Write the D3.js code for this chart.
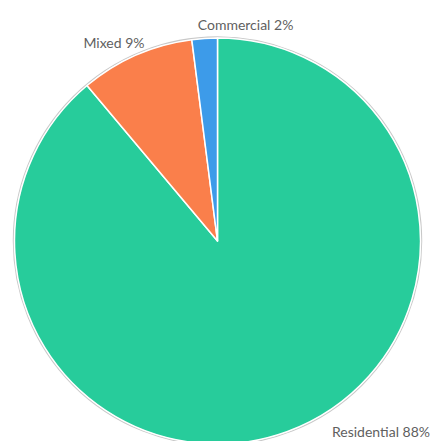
<!DOCTYPE html>
<html>
<head>
<meta charset="utf-8">
<script src="https://cdn.jsdelivr.net/npm/d3@7"></script>
<style>
  html, body { margin: 0; padding: 0; background: #fff; }
  svg { display: block; }
  text { font-family: Lato, "Open Sans", sans-serif; }
</style>
</head>
<body>
<svg id="chart" width="431" height="441"></svg>
<script>
// Land use share, in percent
const categories = ["Residential", "Mixed", "Commercial"];
const values = [88, 9, 2];
const colors = ["#27CC9B", "#FA7F4B", "#3D9BE9"];

const width = 431, height = 441;
const cx = 217.5, cy = 241, radius = 203;

const svg = d3.select("#chart");
const g = svg.append("g").attr("transform", `translate(${cx},${cy})`);

const data = categories.map((c, i) => ({ name: c, value: values[i], color: colors[i] }));
const pie = d3.pie().value(d => d.value).sort(null);
const arcs = pie(data);
const arc = d3.arc().innerRadius(0).outerRadius(radius);

// faint rim behind the slices
g.append("circle")
  .attr("r", radius + 1)
  .attr("fill", "none")
  .attr("stroke", "#c8c8c8")
  .attr("stroke-width", 1.5);

g.selectAll("path.slice")
  .data(arcs)
  .join("path")
  .attr("class", "slice")
  .attr("d", arc)
  .attr("fill", d => d.data.color)
  .attr("stroke", "#fff")
  .attr("stroke-width", 1.5)
  .attr("stroke-linejoin", "round");

// outside labels, kept inside the drawing area
const labelArc = d3.arc().innerRadius(radius + 14).outerRadius(radius + 14);
const labels = svg.append("g");
arcs.forEach(d => {
  const mid = (d.startAngle + d.endAngle) / 2;
  const [lx, ly] = labelArc.centroid(d);
  const right = Math.sin(mid) > -0.1;
  const t = labels.append("text")
    .attr("fill", "#5f5f5f")
    .attr("font-size", 14)
    .attr("text-anchor", "start")
    .text(`${d.data.name} ${d.data.value}%`);
  const w = t.node().getComputedTextLength();
  let x = cx + lx + (right ? -6 : -w + 14);
  let y = cy + ly + 5.5;
  if (y > height - 4) {
    // pushed up against the bottom edge: slide it to the right border
    y = height - 4;
    x = width - 1 - w;
  }
  x = Math.max(2, Math.min(width - 1 - w, x));
  t.attr("x", x).attr("y", y);
});
</script>
</body>
</html>
